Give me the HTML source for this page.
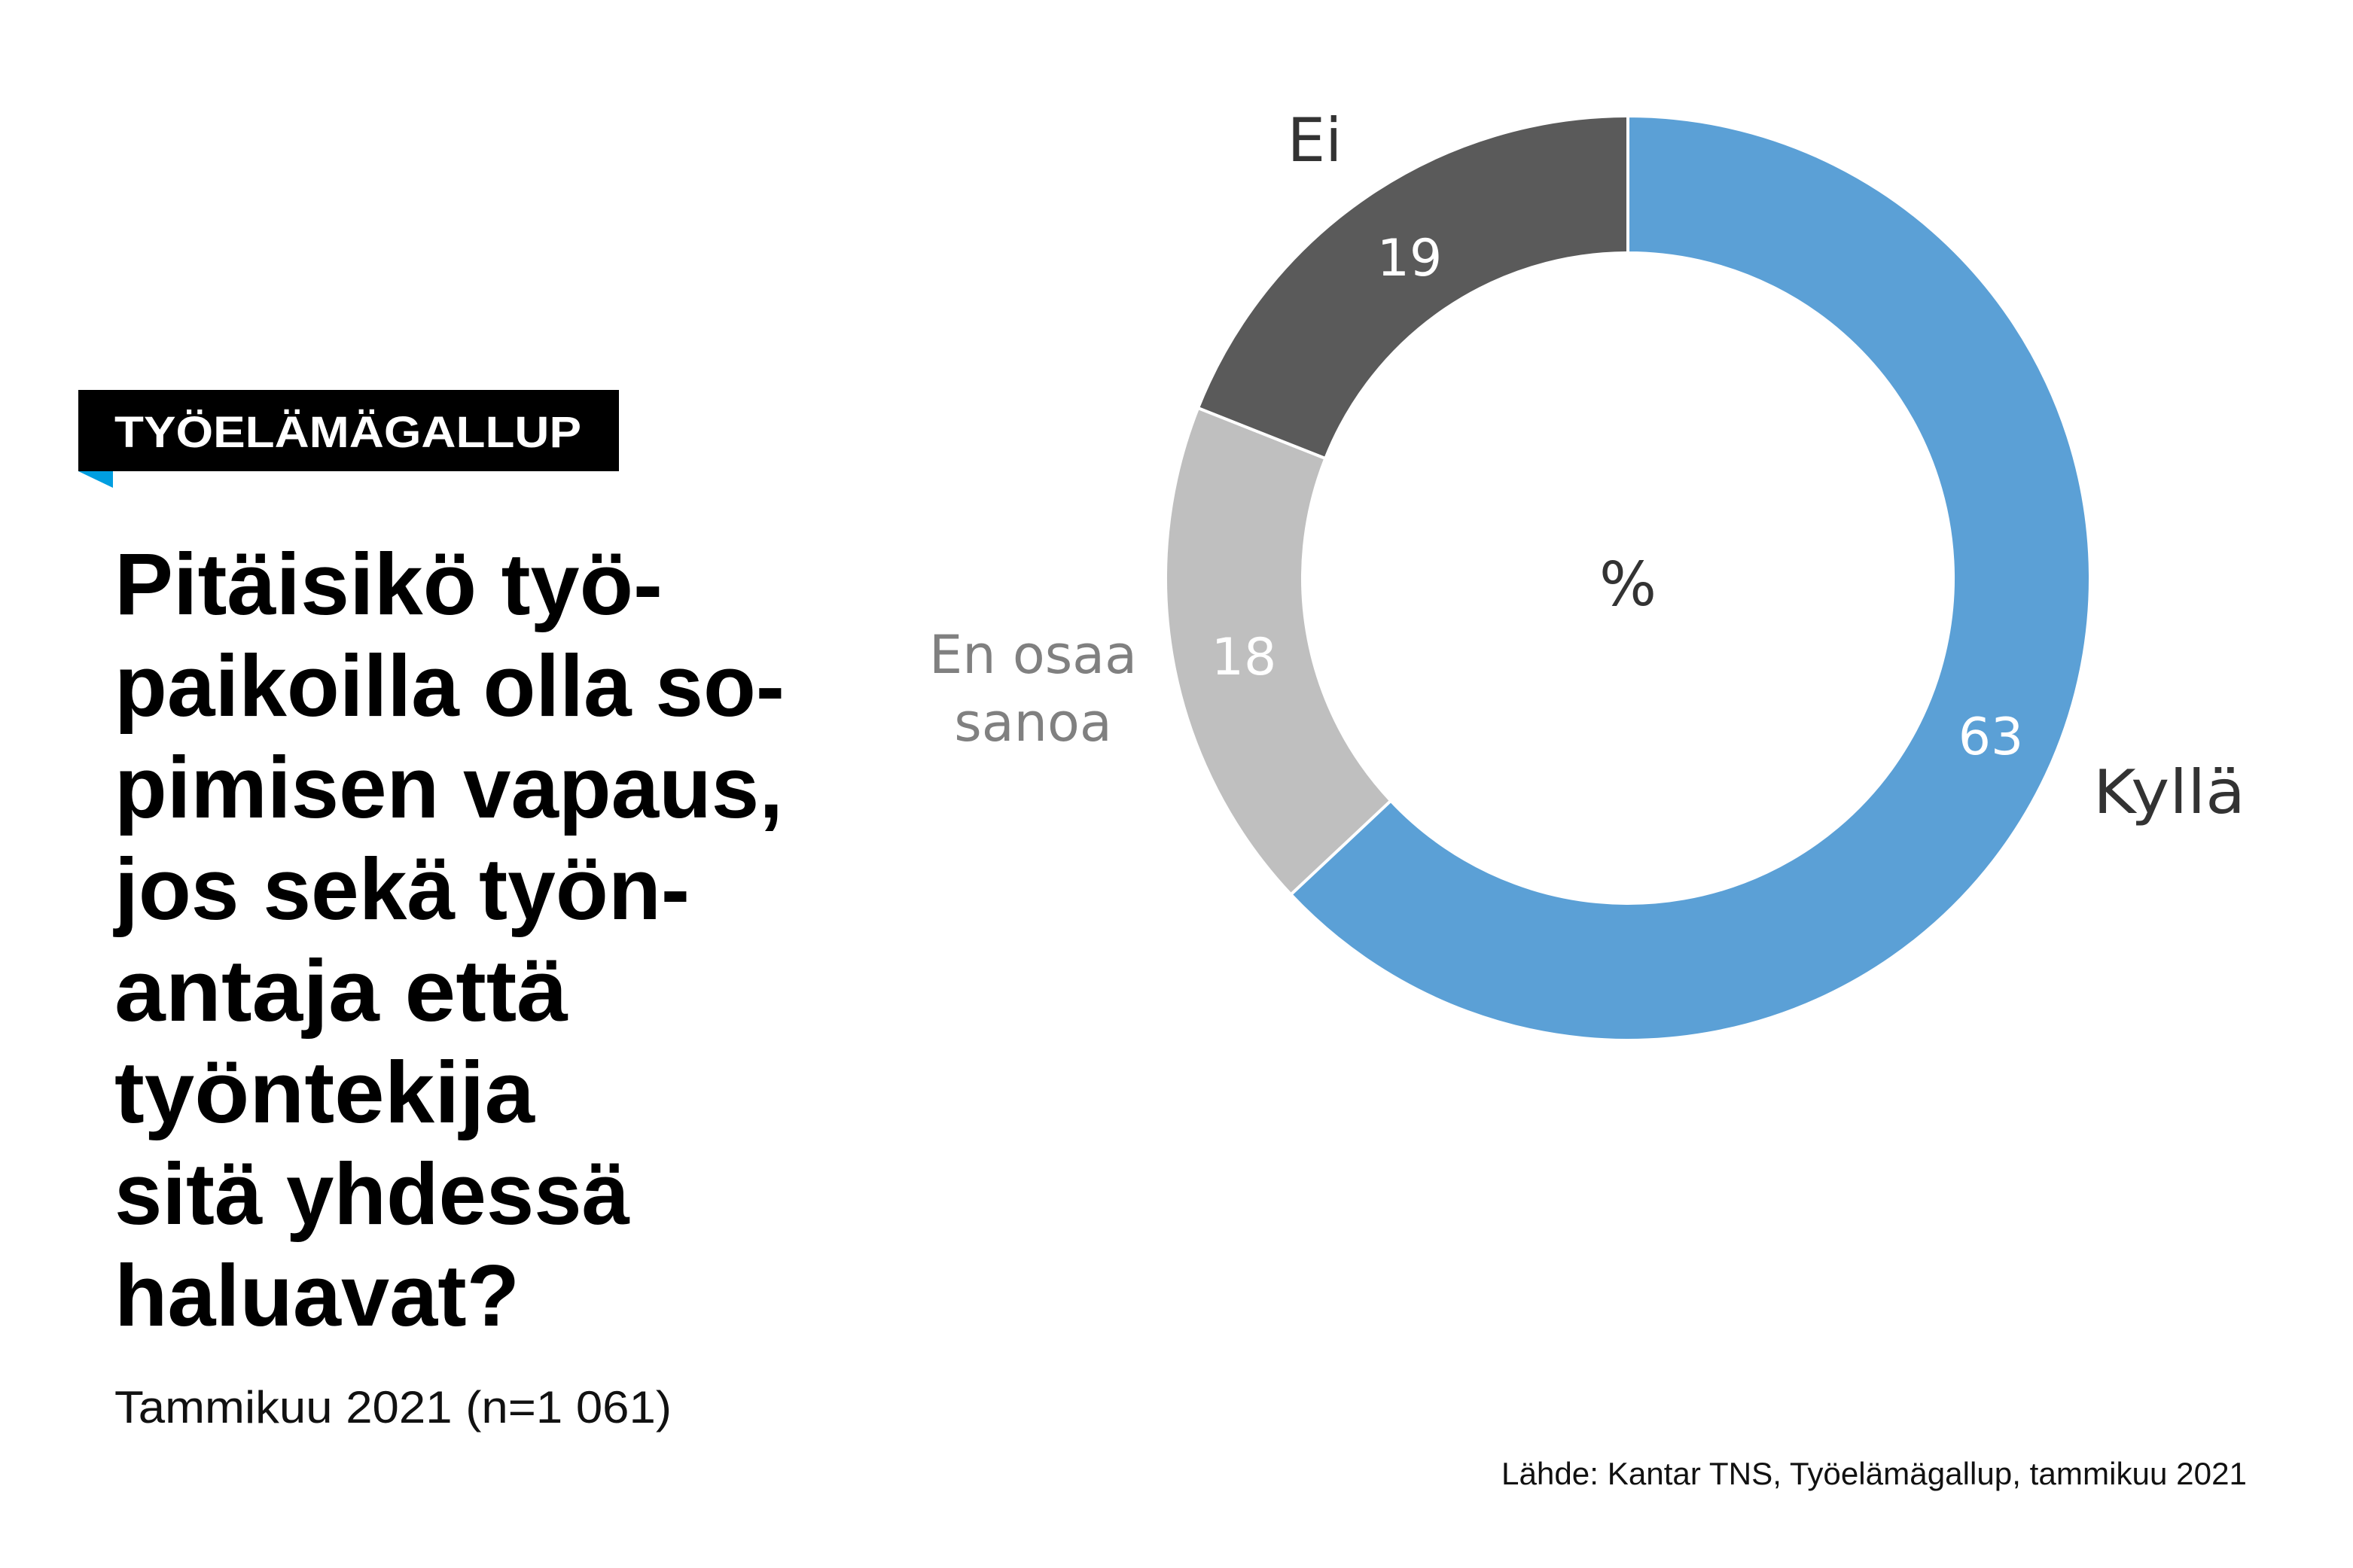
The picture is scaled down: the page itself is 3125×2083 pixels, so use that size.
<!DOCTYPE html>
<html><head><meta charset="utf-8"><style>
html,body{margin:0;padding:0;background:#fff;}
svg{display:block;}
</style></head><body>
<svg width="3125" height="2083" viewBox="0 0 3125 2083" xmlns="http://www.w3.org/2000/svg">
<rect width="3125" height="2083" fill="#fff"/>
<!-- donut -->
<path d="M2162,154 A614,614 0 1,1 1714.4,1188.3 L1847.1,1063.7 A432,432 0 1,0 2162,336 Z" fill="#5ba0d6" stroke="#fff" stroke-width="4"/>
<path d="M1714.4,1188.3 A614,614 0 0,1 1591.1,542.0 L1760.3,609.0 A432,432 0 0,0 1847.1,1063.7 Z" fill="#bfbfbf" stroke="#fff" stroke-width="4"/>
<path d="M1591.1,542.0 A614,614 0 0,1 2162,154 L2162,336 A432,432 0 0,0 1760.3,609.0 Z" fill="#5a5a5a" stroke="#fff" stroke-width="4"/>
<g font-family="'DejaVu Sans',sans-serif">
<text x="1746" y="214" font-size="80" fill="#333" text-anchor="middle">Ei</text>
<text x="1872" y="366" font-size="68" fill="#fff" text-anchor="middle">19</text>
<text x="1652" y="896" font-size="68" fill="#fff" text-anchor="middle">18</text>
<text x="2644" y="1002" font-size="68" fill="#fff" text-anchor="middle">63</text>
<text x="2162" y="804" font-size="80" fill="#333" text-anchor="middle">%</text>
<text x="2780" y="1080" font-size="80" fill="#333" textLength="202" lengthAdjust="spacingAndGlyphs">Kyllä</text>
<text x="1372" y="894" font-size="70" fill="#808080" text-anchor="middle">En osaa</text>
<text x="1372" y="984" font-size="70" fill="#808080" text-anchor="middle">sanoa</text>
</g>
<!-- header tag -->
<rect x="104" y="518" width="718" height="108" fill="#000"/>
<polygon points="104,626 150,626 150,648" fill="#009ee0"/>
<g font-family="'Liberation Sans',sans-serif" font-weight="bold">
<text x="152" y="594" font-size="58" fill="#fff" textLength="620" lengthAdjust="spacingAndGlyphs">TYÖELÄMÄGALLUP</text>
<g font-size="116" fill="#000">
<text x="152" y="816" textLength="728" lengthAdjust="spacingAndGlyphs">Pitäisikö työ-</text>
<text x="152" y="951" textLength="890" lengthAdjust="spacingAndGlyphs">paikoilla olla so-</text>
<text x="152" y="1086" textLength="888" lengthAdjust="spacingAndGlyphs">pimisen vapaus,</text>
<text x="152" y="1221" textLength="764" lengthAdjust="spacingAndGlyphs">jos sekä työn-</text>
<text x="152" y="1356" textLength="602" lengthAdjust="spacingAndGlyphs">antaja että</text>
<text x="152" y="1491" textLength="558" lengthAdjust="spacingAndGlyphs">työntekija</text>
<text x="152" y="1626" textLength="684" lengthAdjust="spacingAndGlyphs">sitä yhdessä</text>
<text x="152" y="1761" textLength="538" lengthAdjust="spacingAndGlyphs">haluavat?</text>
</g>
</g>
<g font-family="'Liberation Sans',sans-serif" fill="#111">
<text x="152" y="1890" font-size="60" textLength="740" lengthAdjust="spacingAndGlyphs">Tammikuu 2021 (n=1 061)</text>
<text x="1994" y="1972" font-size="42" textLength="990" lengthAdjust="spacingAndGlyphs">Lähde: Kantar TNS, Työelämägallup, tammikuu 2021</text>
</g>
</svg>
</body></html>
